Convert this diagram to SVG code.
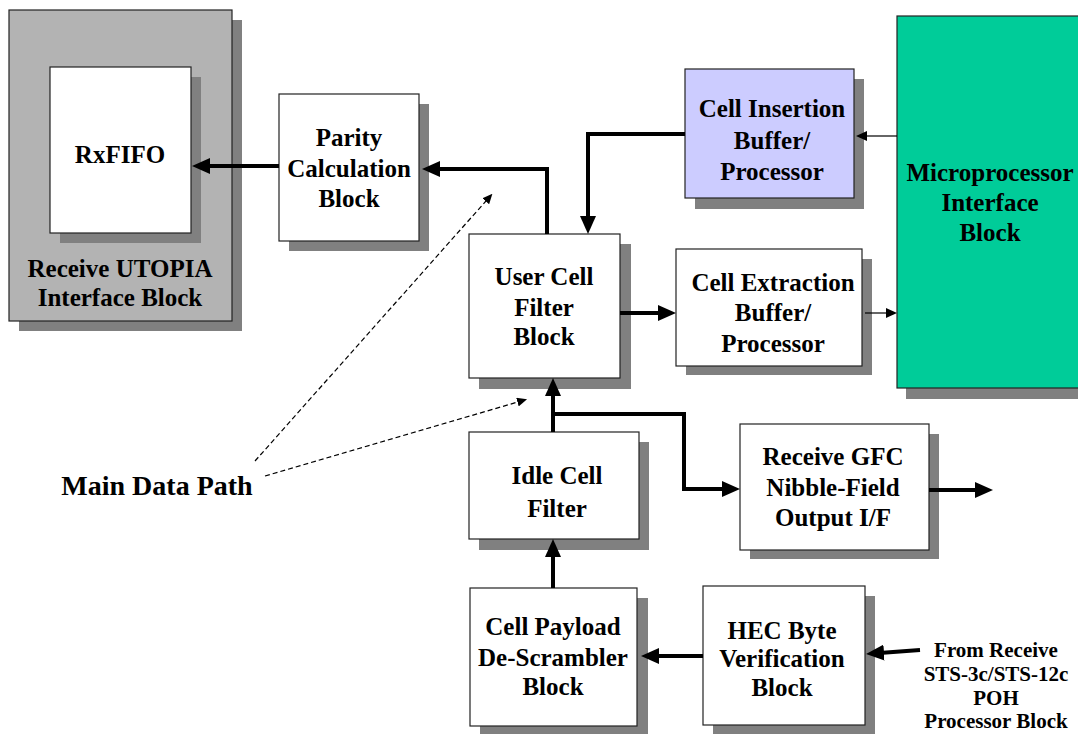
<svg xmlns="http://www.w3.org/2000/svg" width="1078" height="734" viewBox="0 0 1078 734">
<style>
  .box { fill: #ffffff; stroke: #222222; stroke-width: 1.2; }
  .sh { fill: #808080; }
  .t { font-family: "Liberation Serif", "Times New Roman", serif; font-weight: bold; font-size: 25px; fill: #000000; text-anchor: middle; }
  .ts { font-size: 21px; }
  .tl { font-size: 28px; }
  .thick { fill: none; stroke: #000000; stroke-width: 4; }
  .thin { fill: none; stroke: #000000; stroke-width: 1.2; }
  .dash { fill: none; stroke: #000000; stroke-width: 1.2; stroke-dasharray: 5 3; }
</style>
<defs>
  <marker id="ah" markerUnits="userSpaceOnUse" markerWidth="18" markerHeight="16" viewBox="0 0 18 16" refX="1" refY="8" orient="auto">
    <path d="M0,0 L18,8 L0,16 z" fill="#000000"/>
  </marker>
  <marker id="ahs" markerUnits="userSpaceOnUse" markerWidth="11" markerHeight="10" viewBox="0 0 11 10" refX="1" refY="5" orient="auto">
    <path d="M0,0 L11,5 L0,10 z" fill="#000000"/>
  </marker>
  <marker id="ahd" markerUnits="userSpaceOnUse" markerWidth="10" markerHeight="9" viewBox="0 0 10 9" refX="1" refY="4.5" orient="auto">
    <path d="M0,0 L10,4.5 L0,9 z" fill="#000000"/>
  </marker>
</defs>
<rect width="1078" height="734" fill="#ffffff"/>

<g id="utopia">
  <rect class="sh" x="19" y="20" width="223" height="311"/>
  <rect x="9" y="10" width="223" height="311" fill="#b3b3b3" stroke="#222222" stroke-width="1.2"/>
  <text class="t" x="120" y="277">Receive UTOPIA</text>
  <text class="t" x="120" y="306">Interface Block</text>
</g>
<g id="rxfifo">
  <rect class="sh" x="60" y="77" width="141" height="166"/>
  <rect class="box" x="50" y="67" width="141" height="166"/>
  <text class="t" x="120" y="163">RxFIFO</text>
</g>
<g id="parity">
  <rect class="sh" x="289" y="104" width="140" height="147"/>
  <rect class="box" x="279" y="94" width="140" height="147"/>
  <text class="t" x="349" y="146">Parity</text>
  <text class="t" x="349" y="177">Calculation</text>
  <text class="t" x="349" y="207">Block</text>
</g>
<g id="insertion">
  <rect class="sh" x="695" y="79" width="169" height="130"/>
  <rect x="685" y="69" width="169" height="129" fill="#ccccff" stroke="#222222" stroke-width="1.2"/>
  <text class="t" x="772" y="117">Cell Insertion</text>
  <text class="t" x="772" y="149">Buffer/</text>
  <text class="t" x="772" y="180">Processor</text>
</g>
<g id="micro">
  <rect class="sh" x="906" y="26" width="200" height="373"/>
  <rect x="897" y="16" width="200" height="372" fill="#00cc99" stroke="#222222" stroke-width="1.2"/>
  <text class="t" x="990" y="181">Microprocessor</text>
  <text class="t" x="990" y="211">Interface</text>
  <text class="t" x="990" y="241">Block</text>
</g>
<g id="usercell">
  <rect class="sh" x="479" y="244" width="152" height="145"/>
  <rect class="box" x="469" y="234" width="151" height="144"/>
  <text class="t" x="544" y="285">User Cell</text>
  <text class="t" x="544" y="316">Filter</text>
  <text class="t" x="544" y="345">Block</text>
</g>
<g id="extraction">
  <rect class="sh" x="686" y="259" width="186" height="116"/>
  <rect class="box" x="676" y="249" width="186" height="117"/>
  <text class="t" x="773" y="291">Cell Extraction</text>
  <text class="t" x="773" y="321">Buffer/</text>
  <text class="t" x="773" y="352">Processor</text>
</g>
<g id="idle">
  <rect class="sh" x="479" y="442" width="170" height="108"/>
  <rect class="box" x="469" y="432" width="170" height="107"/>
  <text class="t" x="557" y="484">Idle Cell</text>
  <text class="t" x="557" y="517">Filter</text>
</g>
<g id="gfc">
  <rect class="sh" x="750" y="434" width="189" height="125"/>
  <rect class="box" x="740" y="424" width="189" height="126"/>
  <text class="t" x="833" y="465">Receive GFC</text>
  <text class="t" x="833" y="496">Nibble-Field</text>
  <text class="t" x="833" y="526">Output I/F</text>
</g>
<g id="payload">
  <rect class="sh" x="480" y="598" width="168" height="139"/>
  <rect class="box" x="470" y="588" width="167" height="138"/>
  <text class="t" x="553" y="635">Cell Payload</text>
  <text class="t" x="553" y="666">De-Scrambler</text>
  <text class="t" x="553" y="695">Block</text>
</g>
<g id="hec">
  <rect class="sh" x="713" y="596" width="162" height="140"/>
  <rect class="box" x="703" y="586" width="162" height="139"/>
  <text class="t" x="782" y="639">HEC Byte</text>
  <text class="t" x="782" y="667">Verification</text>
  <text class="t" x="782" y="696">Block</text>
</g>
<g id="from-label">
  <text class="t ts" x="996" y="657">From Receive</text>
  <text class="t ts" x="996" y="681">STS-3c/STS-12c</text>
  <text class="t ts" x="996" y="705">POH</text>
  <text class="t ts" x="996" y="728">Processor Block</text>
</g>
<g id="main-data-path">
  <text class="t tl" x="157" y="495">Main Data Path</text>
</g>

<g id="connectors">
  <path class="thick" d="M279,166 H209" marker-end="url(#ah)"/>
  <path class="thick" d="M547,234 V169 H439" marker-end="url(#ah)"/>
  <path class="thick" d="M685,134 H588 V217" marker-end="url(#ah)"/>
  <path class="thin" d="M897,136 H866" marker-end="url(#ahs)"/>
  <path class="thick" d="M620,313 H659" marker-end="url(#ah)"/>
  <path class="thin" d="M865,313 H887" marker-end="url(#ahs)"/>
  <path class="thick" d="M553,432 V395" marker-end="url(#ah)"/>
  <path class="thick" d="M553,414 H684 V489 H723" marker-end="url(#ah)"/>
  <path class="thick" d="M929,490 H976" marker-end="url(#ah)"/>
  <path class="thick" d="M553,588 V556" marker-end="url(#ah)"/>
  <path class="thick" d="M703,656 H658" marker-end="url(#ah)"/>
  <path class="thick" d="M920,650 L883,652.7" marker-end="url(#ah)"/>
  <path class="dash" d="M255,461 L486.4,200.5" marker-end="url(#ahd)"/>
  <path class="dash" d="M265,476 L518.4,401.8" marker-end="url(#ahd)"/>
</g>
</svg>
